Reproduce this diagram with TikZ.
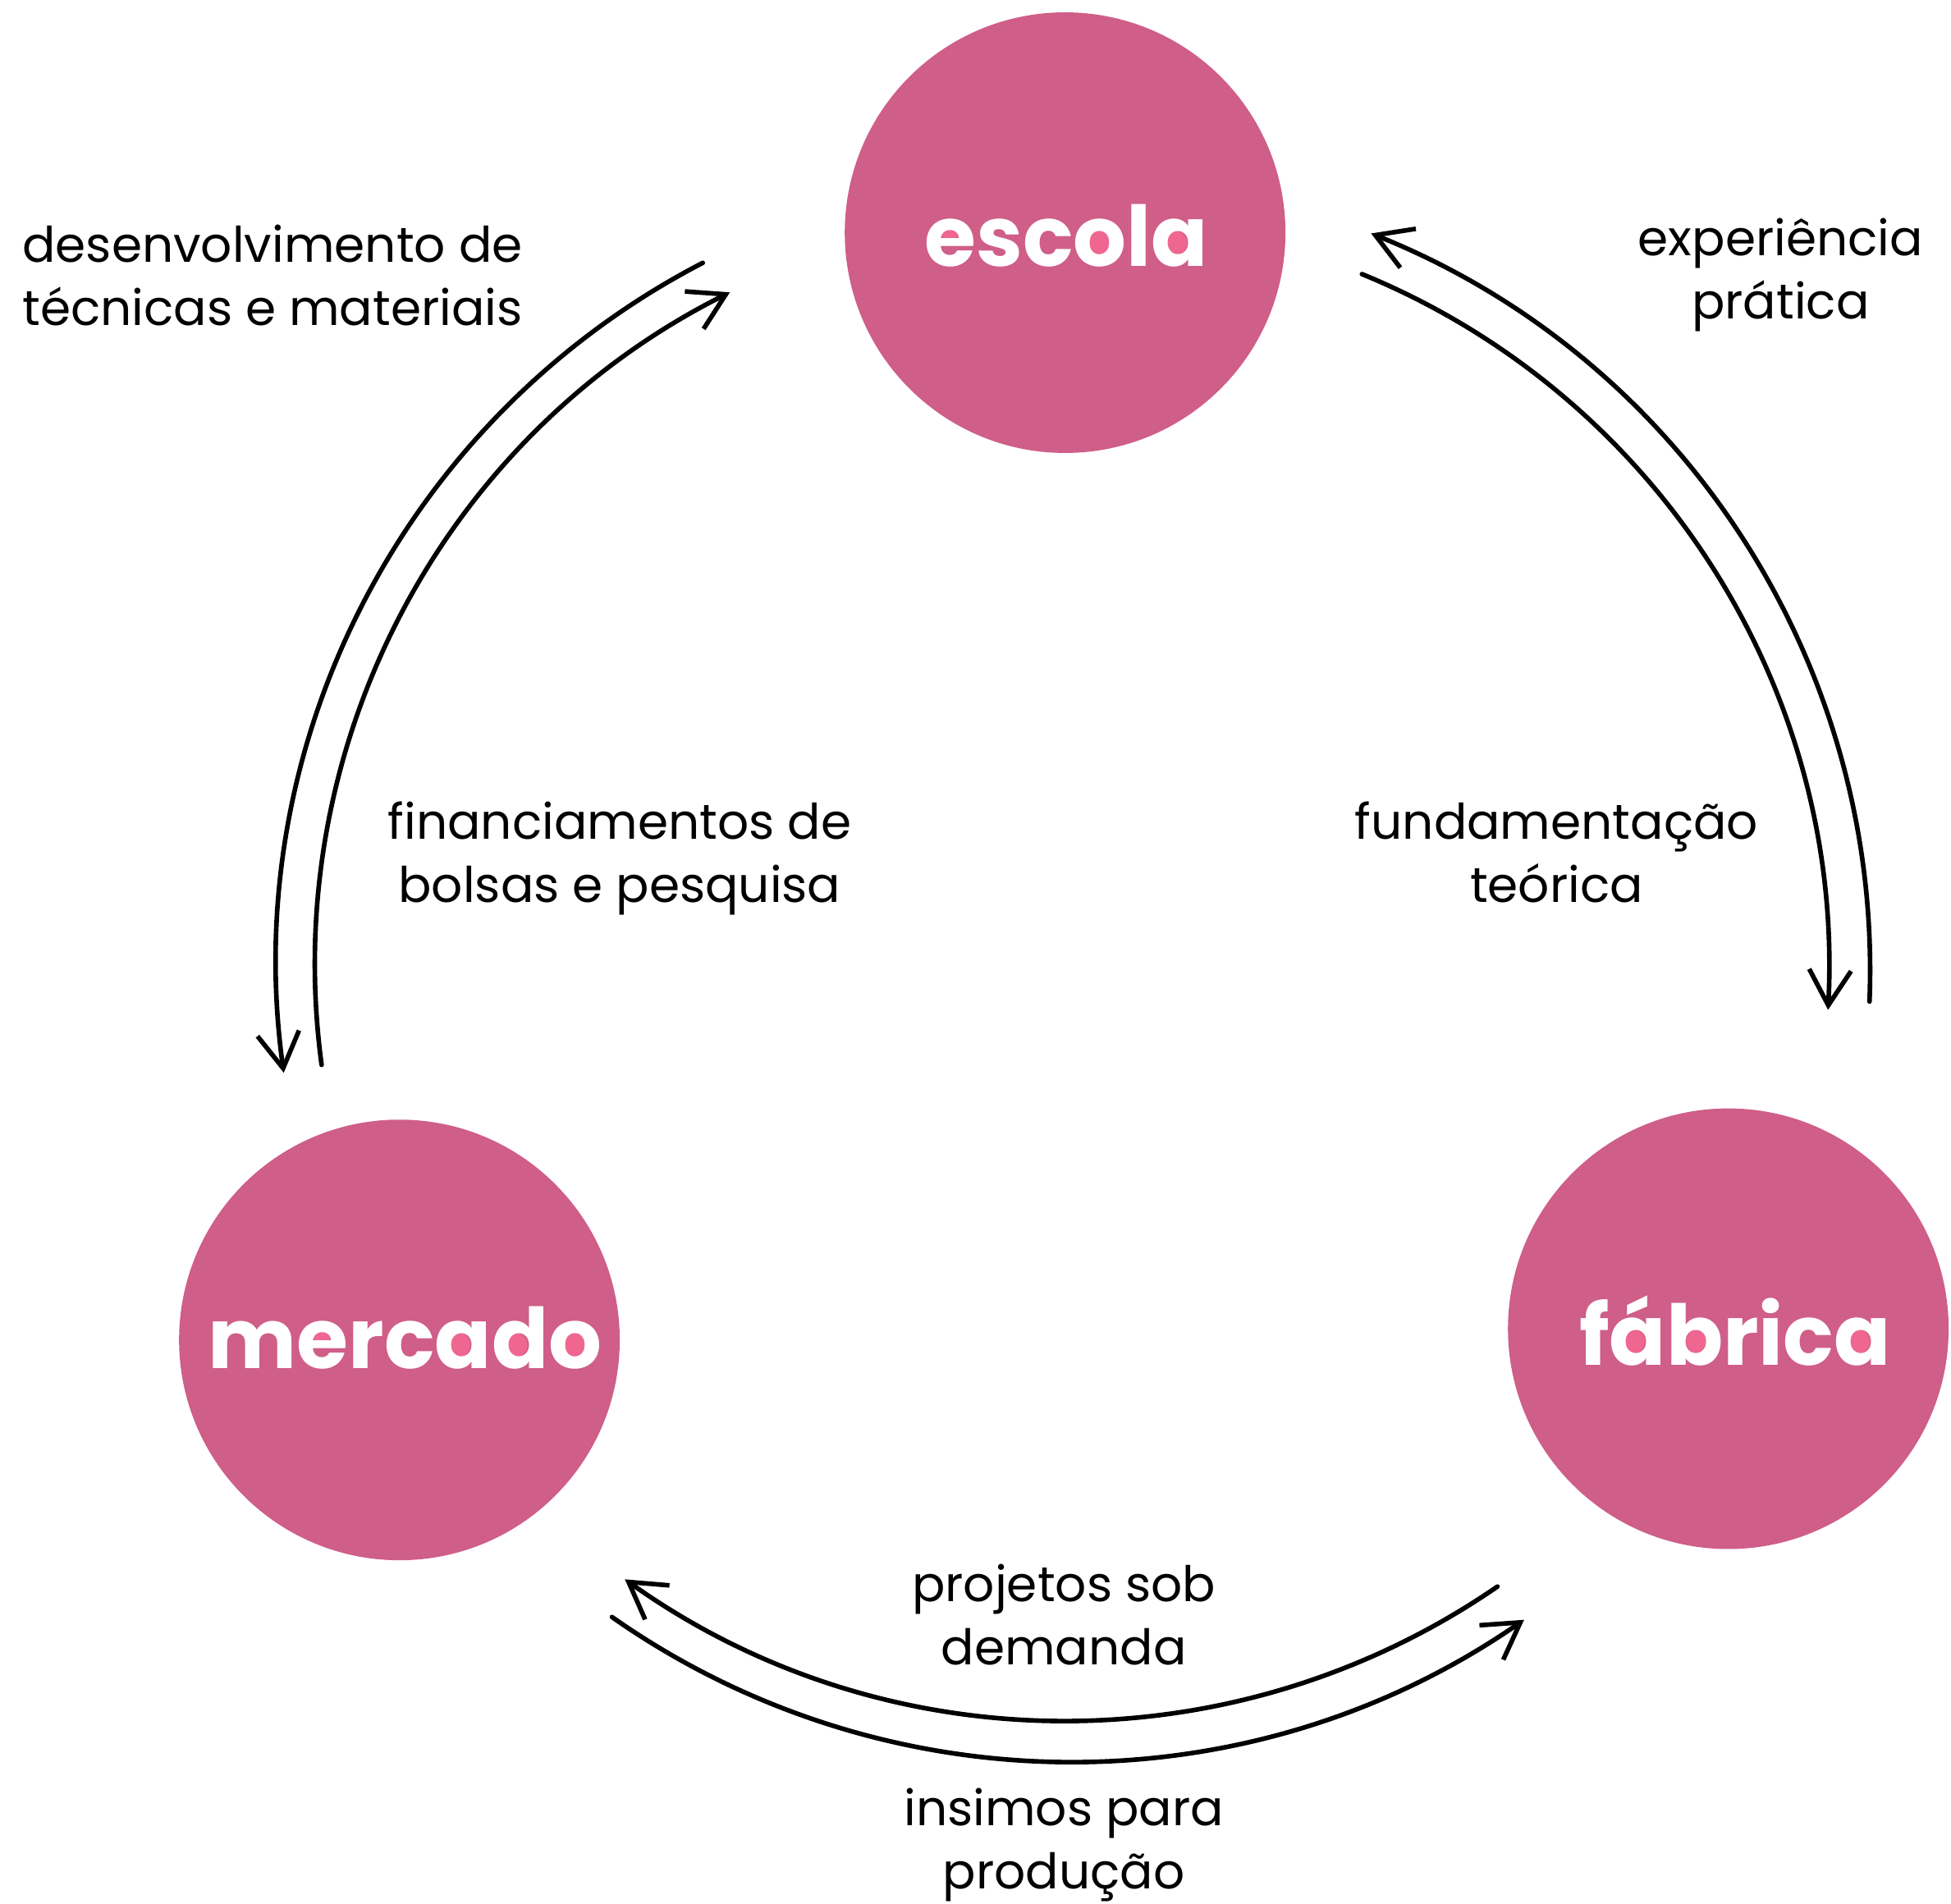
\documentclass[tikz,border=0pt]{standalone}
\usepackage{fontspec}
\setmainfont{Poppins}
\usetikzlibrary{arrows.meta}
\definecolor{rose}{HTML}{CF5E88}
\definecolor{rosecounter}{HTML}{EF6690}
\newcommand\hubfont{\fontsize{29}{34}\selectfont\bfseries}
\newcommand\mkw[2]{\expandafter\newlength\csname wid#1\endcsname
  \global\expandafter\settowidth\csname wid#1\endcsname{\hubfont #2}}
\newcommand\ctrdot[7]{% node, prefixkey, letterkey, xfrac, yfrac, xr, yr
  \fill[rosecounter] ([xshift={\csname wid#2\endcsname+#4*\csname wid#3\endcsname}, yshift={#5*\hubxh}]#1.base west) ellipse[x radius=#6, y radius=#7];}
\newlength\hubxh
\pgfdeclarelayer{bg}
\pgfsetlayers{bg,main}
\begin{document}
\settoheight\hubxh{\hubfont x}%
\mkw{none}{}\mkw{e}{e}\mkw{esc}{esc}\mkw{o}{o}\mkw{escol}{escol}\mkw{a}{a}%
\mkw{m}{m}\mkw{merc}{merc}\mkw{merca}{merca}\mkw{d}{d}\mkw{mercad}{mercad}%
\mkw{f}{f}\mkw{aa}{á}\mkw{fa}{fá}\mkw{b}{b}\mkw{fabric}{fábric}%
\begin{tikzpicture}[x=0.015159cm, y=-0.015159cm,
  hub/.style={circle, fill=rose, draw=none, inner sep=0pt, minimum size=5.366cm},
  hubtext/.style={text=white, font=\hubfont, inner sep=0pt, anchor=base},
  lbl/.style={align=center, inner sep=0pt, font=\fontsize{17}{21.9}\selectfont},
  flow/.style={line width=1.6pt, -{Straight Barb[length=0.43cm, width=0.51cm, line width=1.6pt]}, line cap=round}]
\useasboundingbox (0,0) rectangle (1568,1530);
\node[hubtext] (escolaT) at (857,214) {escola};
\node[hubtext] (mercadoT) at (325.5,1100) {mercado};
\node[hubtext] (fabricaT) at (1394.5,1097) {fábrica};
\begin{pgfonlayer}{bg}
\node[hub] (escola) at (856,187) {};
\node[hub] (mercado) at (321,1077) {};
\node[hub] (fabrica) at (1389,1068) {};
\ctrdot{escolaT}{none}{e}{0.5}{0.70}{0.11cm}{0.07cm}
\ctrdot{escolaT}{esc}{o}{0.5}{0.5}{0.15cm}{0.15cm}
\ctrdot{escolaT}{escol}{a}{0.42}{0.5}{0.15cm}{0.15cm}
\ctrdot{mercadoT}{m}{e}{0.5}{0.70}{0.11cm}{0.07cm}
\ctrdot{mercadoT}{merc}{a}{0.42}{0.5}{0.15cm}{0.15cm}
\ctrdot{mercadoT}{merca}{d}{0.42}{0.5}{0.15cm}{0.15cm}
\ctrdot{mercadoT}{mercad}{o}{0.5}{0.5}{0.15cm}{0.15cm}
\ctrdot{fabricaT}{f}{aa}{0.42}{0.5}{0.15cm}{0.15cm}
\ctrdot{fabricaT}{fa}{b}{0.58}{0.5}{0.15cm}{0.15cm}
\ctrdot{fabricaT}{fabric}{a}{0.42}{0.5}{0.15cm}{0.15cm}
\end{pgfonlayer}
% arc centres
\coordinate (cL) at (857,775);
\coordinate (cR) at (865,780);
\coordinate (cB) at (857,772);
\coordinate (cB2) at (860,775);
% left pair
\draw[flow] (cL) ++(242.6:635) arc[start angle=242.6, end angle=172.1, radius=635];
\draw[flow] (cL) ++(172.3:604) arc[start angle=172.3, end angle=243.4, radius=604];
% right pair
\draw[flow] (cR) ++(2.25:638) arc[start angle=2.25, end angle=-68.2, radius=638];
\draw[flow] (cR) ++(-67.7:605) arc[start angle=-67.7, end angle=3.0, radius=605];
% bottom pair
\draw[flow] (cB) ++(55.45:611) arc[start angle=55.45, end angle=125.5, radius=611];
\draw[flow] (cB2) ++(125.06:641) arc[start angle=125.06, end angle=55.3, radius=641];
% labels
\node[lbl] (l1) at (219,221) {desenvolvimento de\\técnicas e materiais};
\node[lbl] (l2) at (1431,221) {experiência\\prática};
\node[lbl] (l3) at (498,690) {financiamentos de\\bolsas e pesquisa};
\node[lbl] (l4) at (1251,685) {fundamentação\\teórica};
\node[lbl] (l5) at (855,1298) {projetos sob\\demanda};
\node[lbl] (l6) at (855,1483) {insimos para\\produção};
\end{tikzpicture}
\end{document}
